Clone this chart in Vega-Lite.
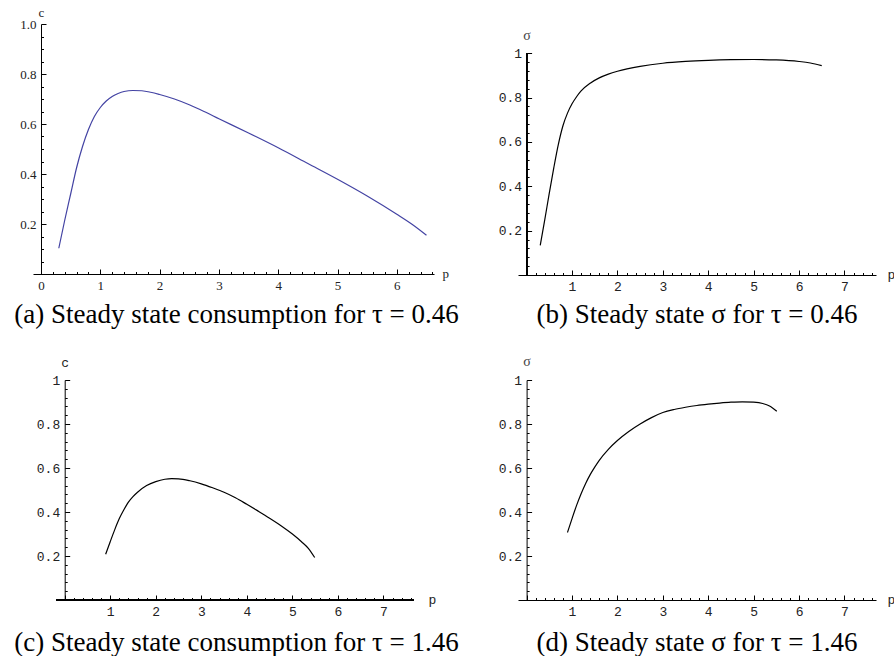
{
  "$schema": "https://vega.github.io/schema/vega-lite/v6.json",
  "padding": {"left": 14, "top": 6, "right": 0, "bottom": 0},
  "background": "white",
  "datasets": {
    "a": [
      {"p": 0.30, "v": 0.103}, {"p": 0.40, "v": 0.215}, {"p": 0.50, "v": 0.32}, {"p": 0.60, "v": 0.425},
      {"p": 0.70, "v": 0.51}, {"p": 0.80, "v": 0.578}, {"p": 0.90, "v": 0.63}, {"p": 1.00, "v": 0.666},
      {"p": 1.10, "v": 0.692}, {"p": 1.20, "v": 0.71}, {"p": 1.30, "v": 0.722}, {"p": 1.40, "v": 0.73},
      {"p": 1.55, "v": 0.734}, {"p": 1.70, "v": 0.733}, {"p": 1.85, "v": 0.727}, {"p": 2.00, "v": 0.718},
      {"p": 2.25, "v": 0.700}, {"p": 2.50, "v": 0.677}, {"p": 2.75, "v": 0.650}, {"p": 3.00, "v": 0.621},
      {"p": 3.50, "v": 0.564}, {"p": 4.00, "v": 0.505}, {"p": 4.50, "v": 0.442}, {"p": 5.00, "v": 0.379},
      {"p": 5.50, "v": 0.312}, {"p": 6.00, "v": 0.239}, {"p": 6.25, "v": 0.200}, {"p": 6.50, "v": 0.155}
    ],
    "b": [
      {"p": 0.30, "v": 0.134}, {"p": 0.40, "v": 0.25}, {"p": 0.50, "v": 0.37}, {"p": 0.60, "v": 0.485},
      {"p": 0.70, "v": 0.59}, {"p": 0.80, "v": 0.673}, {"p": 0.90, "v": 0.73}, {"p": 1.00, "v": 0.772},
      {"p": 1.10, "v": 0.804}, {"p": 1.20, "v": 0.83}, {"p": 1.40, "v": 0.865}, {"p": 1.60, "v": 0.889},
      {"p": 1.80, "v": 0.906}, {"p": 2.00, "v": 0.919}, {"p": 2.50, "v": 0.941}, {"p": 3.00, "v": 0.955},
      {"p": 3.50, "v": 0.963}, {"p": 4.00, "v": 0.968}, {"p": 4.50, "v": 0.971}, {"p": 5.00, "v": 0.972},
      {"p": 5.50, "v": 0.970}, {"p": 6.00, "v": 0.963}, {"p": 6.25, "v": 0.956}, {"p": 6.50, "v": 0.944}
    ],
    "c": [
      {"p": 0.90, "v": 0.208}, {"p": 1.00, "v": 0.265}, {"p": 1.10, "v": 0.32}, {"p": 1.20, "v": 0.37},
      {"p": 1.30, "v": 0.41}, {"p": 1.40, "v": 0.445}, {"p": 1.50, "v": 0.47}, {"p": 1.60, "v": 0.49},
      {"p": 1.80, "v": 0.52}, {"p": 2.00, "v": 0.538}, {"p": 2.20, "v": 0.549}, {"p": 2.35, "v": 0.552},
      {"p": 2.50, "v": 0.551}, {"p": 2.75, "v": 0.542}, {"p": 3.00, "v": 0.528}, {"p": 3.25, "v": 0.51},
      {"p": 3.50, "v": 0.49}, {"p": 3.75, "v": 0.465}, {"p": 4.00, "v": 0.435}, {"p": 4.25, "v": 0.404},
      {"p": 4.50, "v": 0.372}, {"p": 4.75, "v": 0.338}, {"p": 5.00, "v": 0.30}, {"p": 5.20, "v": 0.265},
      {"p": 5.35, "v": 0.235}, {"p": 5.49, "v": 0.193}
    ],
    "d": [
      {"p": 0.90, "v": 0.307}, {"p": 1.00, "v": 0.37}, {"p": 1.10, "v": 0.43}, {"p": 1.20, "v": 0.483},
      {"p": 1.30, "v": 0.53}, {"p": 1.40, "v": 0.57}, {"p": 1.50, "v": 0.604}, {"p": 1.60, "v": 0.635},
      {"p": 1.80, "v": 0.685}, {"p": 2.00, "v": 0.725}, {"p": 2.25, "v": 0.766}, {"p": 2.50, "v": 0.800},
      {"p": 2.75, "v": 0.829}, {"p": 3.00, "v": 0.852}, {"p": 3.25, "v": 0.866}, {"p": 3.50, "v": 0.876},
      {"p": 3.75, "v": 0.884}, {"p": 4.00, "v": 0.890}, {"p": 4.25, "v": 0.895}, {"p": 4.50, "v": 0.899},
      {"p": 4.75, "v": 0.901}, {"p": 5.00, "v": 0.899}, {"p": 5.20, "v": 0.893}, {"p": 5.35, "v": 0.882},
      {"p": 5.51, "v": 0.858}
    ]
  },
  "columns": 2,
  "align": "each",
  "bounds": "flush",
  "spacing": {"row": 105, "column": 84},
  "concat": [
    {
      "width": 401, "height": 250,
      "title": {"text": "(a) Steady state consumption for τ = 0.46", "dx": 3, "offset": 7},
      "data": {"name": "a"},
      "mark": {"type": "line", "color": "#4343a3", "strokeWidth": 1.2, "interpolate": "monotone"},
      "encoding": {
        "x": {"field": "p", "type": "quantitative",
          "scale": {"domain": [-0.135, 6.627], "nice": false, "zero": false},
          "axis": {"values": [0,0.2,0.4,0.6,0.8,1,1.2,1.4,1.6,1.8,2,2.2,2.4,2.6,2.8,3,3.2,3.4,3.6,3.8,4,4.2,4.4,4.6,4.8,5,5.2,5.4,5.6,5.8,6,6.2,6.4,6.6],
            "labelExpr": "abs(datum.value - round(datum.value)) < 1e-6 ? format(datum.value, 'd') : ''",
            "tickSize": {"condition": {"test": "abs(datum.value - round(datum.value)) < 1e-6", "value": -5}, "value": -2.5},
            "labelPadding": 10, "labelFont": "Liberation Serif", "labelFontSize": 13, "labelColor": "#222",
            "title": "p", "titleX": 409, "titleY": 3, "titleAlign": "left", "titleBaseline": "alphabetic",
            "titleFont": "Liberation Serif", "titleFontSize": 13, "titleColor": "#222"}},
        "y": {"field": "v", "type": "quantitative",
          "scale": {"domain": [0, 1], "nice": false, "zero": false},
          "axis": {"values": [0.05,0.1,0.15,0.2,0.25,0.3,0.35,0.4,0.45,0.5,0.55,0.6,0.65,0.7,0.75,0.8,0.85,0.9,0.95,1],
            "offset": -8,
            "labelExpr": "abs(datum.value*5 - round(datum.value*5)) < 1e-6 ? format(datum.value, '.1f') : ''",
            "tickSize": {"condition": {"test": "abs(datum.value*5 - round(datum.value*5)) < 1e-6", "value": -5}, "value": -2.5},
            "labelPadding": 10, "labelFont": "Liberation Serif", "labelFontSize": 13, "labelColor": "#222",
            "title": "c", "titleAngle": 0, "titleX": 0, "titleY": -12, "titleAlign": "center", "titleBaseline": "middle",
            "titleFont": "Liberation Serif", "titleFontSize": 13, "titleColor": "#222"}}
      }
    },
    {
      "width": 358, "height": 251,
      "title": {"text": "(b) Steady state σ for τ = 0.46", "dx": 0, "offset": 6},
      "data": {"name": "b"},
      "layer": [
        {
          "mark": {"type": "line", "color": "black", "strokeWidth": 1.2, "interpolate": "monotone"},
          "encoding": {
            "x": {"field": "p", "type": "quantitative",
              "scale": {"domain": [-0.19, 7.695], "nice": false, "zero": false},
              "axis": {"values": [0,0.2,0.4,0.6,0.8,1,1.2,1.4,1.6,1.8,2,2.2,2.4,2.6,2.8,3,3.2,3.4,3.6,3.8,4,4.2,4.4,4.6,4.8,5,5.2,5.4,5.6,5.8,6,6.2,6.4,6.6,6.8,7,7.2,7.4,7.6],
                "labelExpr": "abs(datum.value - round(datum.value)) < 1e-6 && datum.value > 0.5 ? format(datum.value, 'd') : ''",
                "tickSize": {"condition": {"test": "abs(datum.value - round(datum.value)) < 1e-6", "value": -5}, "value": -2.5},
                "labelPadding": 10, "labelFont": "Liberation Mono", "labelFontSize": 13, "labelColor": "#222",
                "title": "p", "titleX": 369, "titleY": 3, "titleAlign": "left", "titleBaseline": "alphabetic",
                "titleFont": "Liberation Mono", "titleFontSize": 13, "titleColor": "#222"}},
            "y": {"field": "v", "type": "quantitative",
              "scale": {"domain": [0, 1.132], "nice": false, "zero": false},
              "axis": {"values": [0.04,0.08,0.12,0.16,0.2,0.24,0.28,0.32,0.36,0.4,0.44,0.48,0.52,0.56,0.6,0.64,0.68,0.72,0.76,0.8,0.84,0.88,0.92,0.96,1],
                "offset": -8.6, "domain": false,
                "labelExpr": "abs(datum.value*5 - round(datum.value*5)) < 1e-6 ? (datum.value > 0.99 ? '1' : format(datum.value, '.1f')) : ''",
                "tickSize": {"condition": {"test": "abs(datum.value*5 - round(datum.value*5)) < 1e-6", "value": -5}, "value": -2.5},
                "labelPadding": 10, "labelFont": "Liberation Mono", "labelFontSize": 13, "labelColor": "#222",
                "title": "σ", "titleAngle": 0, "titleX": 0, "titleY": 11, "titleAlign": "center", "titleBaseline": "middle",
                "titleFont": "Liberation Serif", "titleFontSize": 14, "titleColor": "#444"}}
          }
        },
        {
          "mark": {"type": "rule", "color": "black", "strokeWidth": 1},
          "encoding": {
            "x": {"datum": 0, "type": "quantitative",
              "axis": {"values": [0,0.2,0.4,0.6,0.8,1,1.2,1.4,1.6,1.8,2,2.2,2.4,2.6,2.8,3,3.2,3.4,3.6,3.8,4,4.2,4.4,4.6,4.8,5,5.2,5.4,5.6,5.8,6,6.2,6.4,6.6,6.8,7,7.2,7.4,7.6],
                "labelExpr": "abs(datum.value - round(datum.value)) < 1e-6 && datum.value > 0.5 ? format(datum.value, 'd') : ''",
                "tickSize": {"condition": {"test": "abs(datum.value - round(datum.value)) < 1e-6", "value": -5}, "value": -2.5},
                "labelPadding": 10, "labelFont": "Liberation Mono", "labelFontSize": 13, "labelColor": "#222",
                "title": "p", "titleX": 369, "titleY": 3, "titleAlign": "left", "titleBaseline": "alphabetic",
                "titleFont": "Liberation Mono", "titleFontSize": 13, "titleColor": "#222"}},
            "y": {"datum": 0, "type": "quantitative",
              "axis": {"values": [0.04,0.08,0.12,0.16,0.2,0.24,0.28,0.32,0.36,0.4,0.44,0.48,0.52,0.56,0.6,0.64,0.68,0.72,0.76,0.8,0.84,0.88,0.92,0.96,1],
                "offset": -8.6, "domain": false,
                "labelExpr": "abs(datum.value*5 - round(datum.value*5)) < 1e-6 ? (datum.value > 0.99 ? '1' : format(datum.value, '.1f')) : ''",
                "tickSize": {"condition": {"test": "abs(datum.value*5 - round(datum.value*5)) < 1e-6", "value": -5}, "value": -2.5},
                "labelPadding": 10, "labelFont": "Liberation Mono", "labelFontSize": 13, "labelColor": "#222",
                "title": "σ", "titleAngle": 0, "titleX": 0, "titleY": 11, "titleAlign": "center", "titleBaseline": "middle",
                "titleFont": "Liberation Serif", "titleFontSize": 14, "titleColor": "#444"}},
            "y2": {"datum": 1}
          }
        }
      ]
    },
    {
      "width": 381, "height": 220,
      "title": {"text": "(c) Steady state consumption for τ = 1.46", "dx": 13, "offset": 9},
      "data": {"name": "c"},
      "layer": [
        {
          "mark": {"type": "line", "color": "black", "strokeWidth": 1.2, "interpolate": "monotone"},
          "encoding": {
            "x": {"field": "p", "type": "quantitative",
              "scale": {"domain": [-0.695, 7.67], "nice": false, "zero": false},
              "axis": {"values": [0,0.2,0.4,0.6,0.8,1,1.2,1.4,1.6,1.8,2,2.2,2.4,2.6,2.8,3,3.2,3.4,3.6,3.8,4,4.2,4.4,4.6,4.8,5,5.2,5.4,5.6,5.8,6,6.2,6.4,6.6,6.8,7,7.2,7.4,7.6],
                "domain": false,
                "labelExpr": "abs(datum.value - round(datum.value)) < 1e-6 && datum.value > 0.5 ? format(datum.value, 'd') : ''",
                "tickSize": {"condition": {"test": "abs(datum.value - round(datum.value)) < 1e-6", "value": -5}, "value": -2.5},
                "labelPadding": 10, "labelFont": "Liberation Mono", "labelFontSize": 13, "labelColor": "#222",
                "title": "p", "titleX": 395, "titleY": 3, "titleAlign": "left", "titleBaseline": "alphabetic",
                "titleFont": "Liberation Mono", "titleFontSize": 13, "titleColor": "#222"}},
            "y": {"field": "v", "type": "quantitative",
              "scale": {"domain": [0, 1], "nice": false, "zero": false},
              "axis": {"values": [0.04,0.08,0.12,0.16,0.2,0.24,0.28,0.32,0.36,0.4,0.44,0.48,0.52,0.56,0.6,0.64,0.68,0.72,0.76,0.8,0.84,0.88,0.92,0.96,1],
                "offset": -31.7,
                "labelExpr": "abs(datum.value*5 - round(datum.value*5)) < 1e-6 ? (datum.value > 0.99 ? '1' : format(datum.value, '.1f')) : ''",
                "tickSize": {"condition": {"test": "abs(datum.value*5 - round(datum.value*5)) < 1e-6", "value": -5}, "value": -2.5},
                "labelPadding": 10, "labelFont": "Liberation Mono", "labelFontSize": 13, "labelColor": "#222",
                "title": "c", "titleAngle": 0, "titleX": 0, "titleY": -18, "titleAlign": "center", "titleBaseline": "middle",
                "titleFont": "Liberation Mono", "titleFontSize": 13, "titleColor": "#222"}}
          }
        },
        {
          "mark": {"type": "rule", "color": "black", "strokeWidth": 1},
          "encoding": {
            "x": {"datum": -0.19, "type": "quantitative",
              "axis": {"values": [0,0.2,0.4,0.6,0.8,1,1.2,1.4,1.6,1.8,2,2.2,2.4,2.6,2.8,3,3.2,3.4,3.6,3.8,4,4.2,4.4,4.6,4.8,5,5.2,5.4,5.6,5.8,6,6.2,6.4,6.6,6.8,7,7.2,7.4,7.6],
                "domain": false,
                "labelExpr": "abs(datum.value - round(datum.value)) < 1e-6 && datum.value > 0.5 ? format(datum.value, 'd') : ''",
                "tickSize": {"condition": {"test": "abs(datum.value - round(datum.value)) < 1e-6", "value": -5}, "value": -2.5},
                "labelPadding": 10, "labelFont": "Liberation Mono", "labelFontSize": 13, "labelColor": "#222",
                "title": "p", "titleX": 395, "titleY": 3, "titleAlign": "left", "titleBaseline": "alphabetic",
                "titleFont": "Liberation Mono", "titleFontSize": 13, "titleColor": "#222"}},
            "x2": {"datum": 7.67},
            "y": {"datum": 0, "type": "quantitative",
              "axis": {"values": [0.04,0.08,0.12,0.16,0.2,0.24,0.28,0.32,0.36,0.4,0.44,0.48,0.52,0.56,0.6,0.64,0.68,0.72,0.76,0.8,0.84,0.88,0.92,0.96,1],
                "offset": -31.7,
                "labelExpr": "abs(datum.value*5 - round(datum.value*5)) < 1e-6 ? (datum.value > 0.99 ? '1' : format(datum.value, '.1f')) : ''",
                "tickSize": {"condition": {"test": "abs(datum.value*5 - round(datum.value*5)) < 1e-6", "value": -5}, "value": -2.5},
                "labelPadding": 10, "labelFont": "Liberation Mono", "labelFontSize": 13, "labelColor": "#222",
                "title": "c", "titleAngle": 0, "titleX": 0, "titleY": -18, "titleAlign": "center", "titleBaseline": "middle",
                "titleFont": "Liberation Mono", "titleFontSize": 13, "titleColor": "#222"}}
          }
        }
      ]
    },
    {
      "width": 358, "height": 220,
      "title": {"text": "(d) Steady state σ for τ = 1.46", "dx": 0, "offset": 9},
      "data": {"name": "d"},
      "mark": {"type": "line", "color": "black", "strokeWidth": 1.2, "interpolate": "monotone"},
      "encoding": {
        "x": {"field": "p", "type": "quantitative",
          "scale": {"domain": [-0.19, 7.695], "nice": false, "zero": false},
          "axis": {"values": [0,0.2,0.4,0.6,0.8,1,1.2,1.4,1.6,1.8,2,2.2,2.4,2.6,2.8,3,3.2,3.4,3.6,3.8,4,4.2,4.4,4.6,4.8,5,5.2,5.4,5.6,5.8,6,6.2,6.4,6.6,6.8,7,7.2,7.4,7.6],
            "labelExpr": "abs(datum.value - round(datum.value)) < 1e-6 && datum.value > 0.5 ? format(datum.value, 'd') : ''",
            "tickSize": {"condition": {"test": "abs(datum.value - round(datum.value)) < 1e-6", "value": -5}, "value": -2.5},
            "labelPadding": 10, "labelFont": "Liberation Mono", "labelFontSize": 13, "labelColor": "#222",
            "title": "p", "titleX": 369, "titleY": 3, "titleAlign": "left", "titleBaseline": "alphabetic",
            "titleFont": "Liberation Mono", "titleFontSize": 13, "titleColor": "#222"}},
        "y": {"field": "v", "type": "quantitative",
          "scale": {"domain": [0, 1], "nice": false, "zero": false},
          "axis": {"values": [0.04,0.08,0.12,0.16,0.2,0.24,0.28,0.32,0.36,0.4,0.44,0.48,0.52,0.56,0.6,0.64,0.68,0.72,0.76,0.8,0.84,0.88,0.92,0.96,1],
            "offset": -8.6,
            "labelExpr": "abs(datum.value*5 - round(datum.value*5)) < 1e-6 ? (datum.value > 0.99 ? '1' : format(datum.value, '.1f')) : ''",
            "tickSize": {"condition": {"test": "abs(datum.value*5 - round(datum.value*5)) < 1e-6", "value": -5}, "value": -2.5},
            "labelPadding": 10, "labelFont": "Liberation Mono", "labelFontSize": 13, "labelColor": "#222",
            "title": "σ", "titleAngle": 0, "titleX": 0, "titleY": -19, "titleAlign": "center", "titleBaseline": "middle",
            "titleFont": "Liberation Serif", "titleFontSize": 14, "titleColor": "#444"}}
      }
    }
  ],
  "config": {
    "view": {"stroke": null},
    "axis": {"grid": false, "domainColor": "black", "tickColor": "black", "labelOverlap": false, "labelFlush": false, "titleFontWeight": "normal", "titlePadding": 0},
    "title": {"orient": "bottom", "anchor": "middle", "frame": "group", "font": "Liberation Serif", "fontSize": 27, "fontWeight": "normal", "color": "black", "baseline": "alphabetic"}
  }
}
